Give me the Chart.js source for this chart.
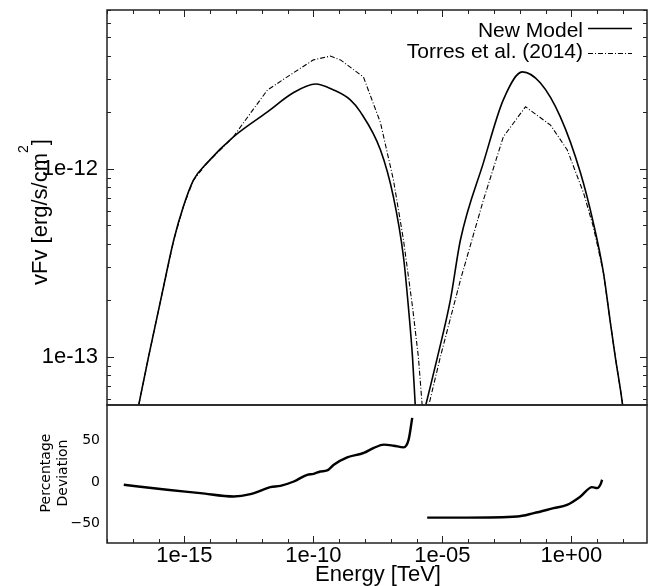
<!DOCTYPE html>
<html>
<head>
<meta charset="utf-8">
<script src="https://cdn.jsdelivr.net/npm/chart.js@4.4.1/dist/chart.umd.min.js"></script>
<style>
  body { margin: 0; background: #fff; }
  #wrap { position: relative; width: 650px; height: 586px; }
  canvas { position: absolute; left: 0; top: 0; }
</style>
</head>
<body>
<div id="wrap">
  <canvas id="sed" width="650" height="586"></canvas>
  <canvas id="dev" width="650" height="586"></canvas>
</div>
<script>
// Energies in TeV, vFv in erg/s/cm2. null splits the two bumps.
const newModelE = [1.0e-17, 1.70e-17, 4.07e-17, 1.38e-16, 3.89e-16, 9.12e-16, 2.24e-15, 7.76e-15, 7.94e-14,
  1.66e-12, 1.66e-11, 1.20e-10, 6.03e-10, 2.69e-9, 6.61e-9, 3.98e-8, 1.26e-7, 3.09e-7, 4.79e-7, 6.92e-7,
  8.91e-7, 1.05e-6, 1.3e-6,
  1.58e-6, 2.19e-6, 6.46e-6, 2.04e-5, 5.01e-5, 3.89e-4, 2.29e-3, 1.26e-2, 6.31e-2, 0.372, 2.24, 7.08,
  17.4, 32.4, 50.1, 95.5, 112];
const newModelF = [3.9e-14, 5.56e-14, 1.0e-13, 2.19e-13, 4.20e-13, 6.31e-13, 8.71e-13, 1.08e-12, 1.48e-12,
  2.01e-12, 2.54e-12, 2.83e-12, 2.63e-12, 2.33e-12, 2.01e-12, 1.26e-12, 7.10e-13, 3.41e-13, 1.85e-13, 1.00e-13,
  5.44e-14, 3.7e-14, null,
  4.5e-14, 5.44e-14, 1.00e-13, 2.01e-13, 4.20e-13, 1.08e-12, 2.33e-12, 3.28e-12, 2.86e-12, 1.89e-12, 9.53e-13, 5.16e-13,
  2.81e-13, 1.52e-13, 1.00e-13, 5.58e-14, 4.5e-14];

const torresE = [1.0e-17, 1.70e-17, 4.07e-17, 1.38e-16, 3.89e-16, 9.12e-16, 2.24e-15, 7.76e-15, 7.94e-14,
  1.95e-13, 1.66e-12, 1.66e-11, 1.0e-10, 4.57e-10, 1.12e-9, 8.71e-9, 3.98e-8, 1.26e-7, 3.09e-7, 6.92e-7,
  1.17e-6, 1.66e-6, 1.9e-6, 2.1e-6,
  2.4e-6, 2.88e-6, 8.32e-6, 5.01e-5, 3.89e-4, 2.29e-3, 1.66e-2, 0.155, 0.692, 2.95, 7.08,
  17.4, 32.4, 50.1, 97.7, 115];
const torresF = [3.9e-14, 5.56e-14, 1.0e-13, 2.19e-13, 4.20e-13, 6.31e-13, 8.71e-13, 1.08e-12, 1.48e-12,
  1.76e-12, 2.63e-12, 3.24e-12, 3.80e-12, 3.98e-12, 3.80e-12, 3.08e-12, 1.76e-12, 8.75e-13, 4.20e-13, 1.85e-13,
  1.00e-13, 5.44e-14, 3.5e-14, null,
  4.0e-14, 5.44e-14, 1.00e-13, 2.57e-13, 6.84e-13, 1.48e-12, 2.14e-12, 1.71e-12, 1.26e-12, 7.46e-13, 4.92e-13,
  2.81e-13, 1.52e-13, 1.00e-13, 5.58e-14, 4.5e-14];

// Percentage deviation, low and high energy parts
const devLowE = [4.47e-18, 2.14e-16, 4.17e-15, 8.13e-14, 3.63e-13, 1.62e-12, 2.14e-12, 5.25e-12, 1.74e-11,
  5.75e-11, 1.02e-10, 1.86e-10, 3.39e-10, 6.17e-10, 2.04e-9, 6.61e-9, 8.91e-9, 2.19e-8, 5.37e-8, 1.29e-7,
  3.16e-7, 4.90e-7, 6.76e-7];
const devLowPct = [-3.3, -9.3, -13.3, -17.4, -14.5, -7.3, -6.1, -4.5, 0.7,
  8.8, 10.0, 12.8, 14.0, 20.9, 29.8, 33.9, 35.1, 41.2, 45.2, 43.9,
  41.9, 51.2, 77.5];
const devHighE = [2.57e-6, 9.12e-5, 7.94e-3, 3.47e-2, 0.204, 0.676, 2.24, 6.31, 10.0, 13.2, 15.5];
const devHighPct = [-42.9, -42.9, -41.6, -37.5, -31.5, -27.5, -17.4, -6.1, -7.3, -3.3, 2.8];

const energyTicks = [1e-15, 1e-10, 1e-5, 1];
const fluxTicks = [1e-13, 1e-12];
const devTicks = [-50, 0, 50];

const toPoints = (xs, ys) => xs.map((x, i) => ({ x: x, y: ys[i] }));

function sci(v) {
  const e = Math.round(Math.log10(v));
  return '1e' + (e < 0 ? '-' : '+') + String(Math.abs(e)).padStart(2, '0');
}

// fixed axis box sizes so both panels line up
function fixBox(size) {
  return (s) => {
    if (s.isHorizontal()) s.height = size; else s.width = size;
    s.paddingTop = 0; s.paddingBottom = 0; s.paddingLeft = 0; s.paddingRight = 0;
  };
}

Chart.defaults.font.family = '"Liberation Sans", Arial, sans-serif';
Chart.defaults.color = '#000';

// box and inward tick marks, like the original plot
const frame = {
  id: 'frame',
  afterDraw(chart, args, opts) {
    const { ctx, chartArea: a } = chart;
    const xs = chart.scales.x;
    const seg = (x1, y1, x2, y2) => { ctx.beginPath(); ctx.moveTo(x1, y1); ctx.lineTo(x2, y2); ctx.stroke(); };
    ctx.save();
    ctx.strokeStyle = '#222';
    ctx.lineWidth = 1;
    const top = opts.xEdge === 'top';
    const y0 = top ? a.top : a.bottom;
    for (let k = -18; k <= 2; k++) {
      const px = Math.round(xs.getPixelForValue(Math.pow(10, k))) + 0.5;
      const len = k % 5 === 0 ? 7 : 4;
      seg(px, y0, px, y0 + (top ? len : -len));
    }
    if (opts.logY) {
      const ys = chart.scales.y;
      for (let k = -14; k <= -12; k++) {
        for (let m = 1; m <= 9; m++) {
          const v = m * Math.pow(10, k);
          if (v < ys.min || v > ys.max) continue;
          const py = Math.round(ys.getPixelForValue(v)) + 0.5;
          const len = m === 1 ? 7 : 4;
          seg(a.left, py, a.left + len, py);
          seg(a.right, py, a.right - len, py);
        }
      }
    }
    ctx.lineWidth = 1.5;
    ctx.strokeRect(a.left, a.top, a.right - a.left, a.bottom - a.top);
    ctx.restore();
  }
};

// axis titles and legend drawn as text on the canvas
const labels = {
  id: 'labels',
  afterDraw(chart, args, opts) {
    const ctx = chart.ctx;
    ctx.save();
    ctx.fillStyle = '#000';
    ctx.textBaseline = 'alphabetic';
    ctx.textAlign = 'left';
    if (opts.which === 'sed') {
      ctx.save();
      ctx.translate(47, 212);
      ctx.rotate(-Math.PI / 2);
      const main = '22px "Liberation Sans"', sup = '14px "Liberation Sans"';
      ctx.font = main;
      const w1 = ctx.measureText('vFv [erg/s/cm').width;
      const w3 = ctx.measureText(']').width;
      ctx.font = sup;
      const w2 = ctx.measureText('2').width;
      let x = -(w1 + w2 + w3) / 2;
      ctx.font = main; ctx.fillText('vFv [erg/s/cm', x, 0); x += w1;
      ctx.font = sup; ctx.fillText('2', x, -19); x += w2;
      ctx.font = main; ctx.fillText(']', x, 0);
      ctx.restore();

      // legend, text right aligned with sample line to the right
      ctx.font = '21px "Liberation Sans"';
      ctx.textAlign = 'right';
      ctx.fillText('New Model', 583, 37);
      ctx.fillText('Torres et al. (2014)', 583, 58);
      ctx.strokeStyle = '#000';
      ctx.lineWidth = 1.5;
      ctx.beginPath(); ctx.moveTo(588, 28.5); ctx.lineTo(632, 28.5); ctx.stroke();
      ctx.lineWidth = 1.1;
      ctx.setLineDash([5, 2, 1, 2]);
      ctx.beginPath(); ctx.moveTo(588, 53.5); ctx.lineTo(632, 53.5); ctx.stroke();
    } else {
      ctx.save();
      ctx.font = '14px "DejaVu Sans"';
      ctx.textAlign = 'center';
      ctx.translate(0, 473);
      ctx.rotate(-Math.PI / 2);
      ctx.fillText('Percentage', 0, 50);
      ctx.fillText('Deviation', 0, 66.5);
      ctx.restore();
      ctx.font = '22px "Liberation Sans"';
      ctx.textAlign = 'center';
      ctx.fillText('Energy [TeV]', 378, 581);
    }
    ctx.restore();
  }
};

new Chart(document.getElementById('sed'), {
  type: 'line',
  data: {
    datasets: [
      {
        label: 'New Model',
        data: toPoints(newModelE, newModelF),
        borderColor: '#000',
        borderWidth: 1.6,
        pointRadius: 0,
        cubicInterpolationMode: 'monotone',
        spanGaps: false
      },
      {
        label: 'Torres et al. (2014)',
        data: toPoints(torresE, torresF),
        borderColor: '#000',
        borderWidth: 1.1,
        borderDash: [5, 2, 1, 2],
        pointRadius: 0,
        tension: 0,
        spanGaps: false
      }
    ]
  },
  options: {
    responsive: false,
    animation: false,
    layout: { padding: { left: 0, right: 3, top: 10, bottom: 181 } },
    scales: {
      x: { type: 'logarithmic', display: false, min: 1e-18, max: 850 },
      y: {
        type: 'logarithmic',
        min: 5.55e-14,
        max: 7.0e-12,
        grid: { display: false, drawTicks: false },
        border: { display: false },
        afterBuildTicks: (s) => { s.ticks = fluxTicks.map(v => ({ value: v })); },
        afterFit: fixBox(107),
        ticks: {
          font: { size: 22 },
          padding: 9,
          autoSkip: false,
          callback: (v) => sci(v)
        }
      }
    },
    plugins: {
      legend: { display: false },
      tooltip: { enabled: false },
      frame: { xEdge: 'top', logY: true },
      labels: { which: 'sed' }
    }
  },
  plugins: [frame, labels]
});

new Chart(document.getElementById('dev'), {
  type: 'line',
  data: {
    datasets: [
      {
        data: toPoints(devLowE, devLowPct),
        borderColor: '#000',
        borderWidth: 2.4,
        pointRadius: 0,
        cubicInterpolationMode: 'monotone'
      },
      {
        data: toPoints(devHighE, devHighPct),
        borderColor: '#000',
        borderWidth: 2.4,
        pointRadius: 0,
        cubicInterpolationMode: 'monotone'
      }
    ]
  },
  options: {
    responsive: false,
    animation: false,
    layout: { padding: { left: 0, right: 3, top: 405, bottom: 0 } },
    scales: {
      x: {
        type: 'logarithmic',
        min: 1e-18,
        max: 850,
        grid: { display: false, drawTicks: false },
        border: { display: false },
        afterBuildTicks: (s) => { s.ticks = energyTicks.map(v => ({ value: v })); },
        afterFit: fixBox(43),
        ticks: {
          font: { size: 22 },
          padding: 0,
          autoSkip: false,
          maxRotation: 0,
          callback: (v) => sci(v)
        }
      },
      y: {
        type: 'linear',
        min: -73.5,
        max: 93,
        grid: { display: false, drawTicks: false },
        border: { display: false },
        afterBuildTicks: (s) => { s.ticks = devTicks.map(v => ({ value: v })); },
        afterFit: fixBox(107),
        ticks: {
          font: { family: '"DejaVu Sans"', size: 14 },
          padding: 7,
          callback: (v) => (v < 0 ? '\u2212' + Math.abs(v) : String(v))
        }
      }
    },
    plugins: {
      legend: { display: false },
      tooltip: { enabled: false },
      frame: { xEdge: 'bottom', logY: false },
      labels: { which: 'dev' }
    }
  },
  plugins: [frame, labels]
});
</script>
</body>
</html>
